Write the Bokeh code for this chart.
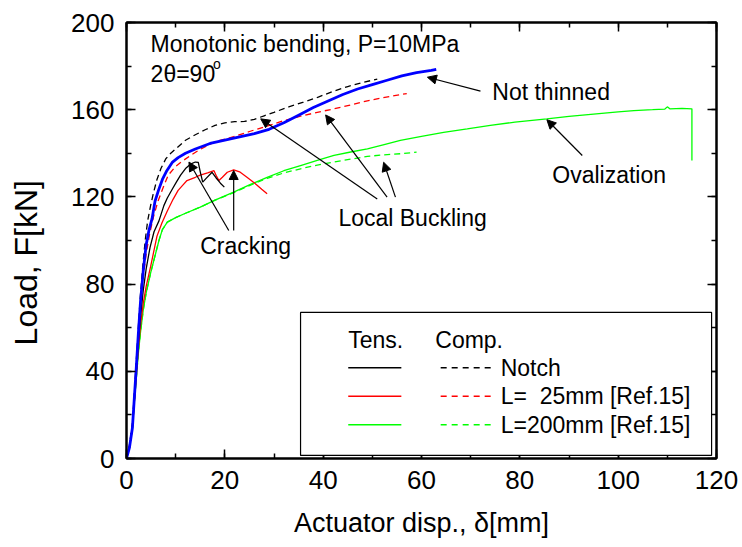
from bokeh.plotting import figure
from bokeh.models import (Range1d, LinearAxis, SingleIntervalTicker, Label,
                          Arrow, NormalHead, BoxAnnotation)
from bokeh.embed import file_html
from bokeh.resources import INLINE

FONT = "Liberation Sans"

# ---- load-displacement curves (actuator disp. [mm], load [kN]) ----
# Tension side, notch
notch_tens_x = [0, 0.6, 1.2, 1.6, 2.0, 2.4, 2.85, 3.4, 4.0, 4.8, 5.6, 6.6, 7.6, 8.3, 9.3,
                10.2, 11, 12, 13, 14, 14.6, 15.0, 15.5, 16.2, 17.4, 18.2, 19.1, 19.9]
notch_tens_y = [0, 5, 14, 27, 40, 53, 65, 77, 87, 97, 104, 109, 116, 119.5, 123.5,
                127, 130, 133, 135, 136, 135.8, 131.5, 126.8, 128.5, 131.3, 128.8, 126.3, 124.5]

# Compression side, notch
notch_comp_x = [0, 0.6, 1.2, 1.6, 2.0, 2.4, 2.8, 3.3, 3.8, 4.3, 4.9, 5.5, 6.2, 7, 8, 9, 10,
                12, 14, 16, 18, 20, 22, 24, 26, 28, 30, 33, 36, 39, 42, 45, 48, 51]
notch_comp_y = [0, 6, 16, 30, 45, 60, 74, 88, 100, 109, 116, 122, 128, 133, 137.5, 140, 142,
                146, 148.5, 150.8, 152.8, 154, 154.5, 154.6, 155.6, 157.2, 158.8, 161.3,
                163.5, 165.8, 168.4, 170.6, 172.5, 174]

# Tension side, L = 25 mm
l25_tens_x = [0, 0.6, 1.2, 1.6, 2.0, 2.4, 2.85, 3.4, 4.0, 4.9, 6.2, 7.2, 8.3, 9.5, 10.5,
              11.5, 12.3, 14, 15, 16.5, 17.8, 18.3, 18.8, 19.5, 20.5, 21.8, 23, 24.5, 25.5,
              26.5, 27.5, 28.6]
l25_tens_y = [0, 5, 14, 26, 38, 50, 61, 71, 79, 88, 102, 108, 113.5, 119, 123,
              125.5, 127.5, 129, 130, 131, 132, 129.5, 127.5, 129, 131.3, 132.4, 131.5, 129,
              127.3, 125.5, 123.5, 121.4]

# Compression side, L = 25 mm
l25_comp_x = [0, 0.6, 1.2, 1.6, 2.0, 2.4, 2.85, 3.4, 4.0, 4.7, 5.5, 6.4, 7.4, 8.5, 10, 11,
              13, 15, 18, 21.8, 25, 28.6, 32, 35.4, 38.8, 42.2, 45.6, 48.5, 51.5, 54.5, 57]
l25_comp_y = [0, 6, 15, 29, 43, 57, 70, 83, 94, 103, 111, 118, 124, 130, 134, 135.8,
              139, 141.8, 145.3, 147.6, 150, 152.5, 155, 157, 158.8, 160.4, 162.2, 163.8,
              165.2, 166.5, 167.4]

# Tension side, L = 200 mm
l200_tens_x = [0, 0.6, 1.2, 1.6, 2.0, 2.4, 2.85, 3.4, 4.0, 4.9, 5.8, 6.6, 7.3, 8.3, 10, 12,
               15, 18, 21.8, 25, 28.6, 32, 35.4, 38.8, 42.2, 45.6, 49, 52.4, 55.7, 60, 64.5,
               69.3, 74, 79, 85.5, 90, 95, 100, 103.2, 107, 109.5, 110, 110.5, 113, 115, 115]
l200_tens_y = [0, 5, 14, 26, 37, 48, 58, 68, 76, 85, 93, 100, 105, 108.4, 110.5, 112.5,
               115.3, 118.5, 122.2, 125.5, 129, 132, 134.4, 136.8, 139, 140.6, 142, 144,
               145.9, 147.8, 149.6, 151.2, 152.8, 154.3, 155.8, 156.9, 158, 159, 159.6, 160,
               160.3, 161.3, 160.4, 160.6, 160.4, 136.7]

# Compression side, L = 200 mm
l200_comp_x = [0, 0.6, 1.2, 1.6, 2.0, 2.4, 2.85, 3.4, 4.0, 4.9, 5.8, 6.6, 7.3, 8.3, 10, 12,
               15, 18, 21.8, 25, 28.6, 32, 35.4, 38.8, 42.2, 45.6, 49, 52.4, 55.7, 59]
l200_comp_y = [0, 5, 14, 26, 37, 48, 58, 68, 76, 85, 93, 100, 105, 108.4, 110.5, 112.5,
               115.3, 118.5, 122, 125.2, 128.5, 131, 132.9, 134.6, 136, 137.3, 138.6, 139.3,
               139.8, 140.5]

# Not thinned pipe
plain_x = [0, 0.6, 1.2, 1.6, 2.0, 2.4, 2.85, 3.4, 4.0, 4.6, 5.2, 5.8, 6.5, 7.3, 8.2, 9.3,
           10.5, 12, 14, 17, 20, 23, 26, 29, 32, 35, 38, 41, 44, 47, 50, 53, 56, 59, 62, 63]
plain_y = [0, 5, 14, 28, 42, 57, 72, 86, 98, 105, 110, 118, 123, 128, 132, 135.8,
           138, 140, 142, 144.5, 146, 147.5, 149, 151, 154, 157.5, 161, 164, 167, 169.5,
           171.5, 173.5, 175.5, 177, 178, 178.5]

# the double gap in the L=25mm row keeps "[Ref.15]" aligned with the row below
legend_rows = ["Notch", "L=\u00a0 25mm [Ref.15]", "L=200mm [Ref.15]"]
legend_colors = ["black", "#ff0000", "#00ff00"]

p = figure(width=742, height=547, x_range=Range1d(0, 120), y_range=Range1d(0, 200),
           output_backend="svg", toolbar_location=None,
           min_border_left=126, min_border_right=26, min_border_top=22,
           min_border_bottom=89)
p.background_fill_color = "white"
p.border_fill_color = "white"
p.outline_line_color = "black"
p.outline_line_width = 2
p.xgrid.visible = False
p.ygrid.visible = False


def style_axis(ax, interval, labels=True):
    ax.ticker = SingleIntervalTicker(interval=interval, num_minor_ticks=2)
    ax.axis_line_width = 2
    ax.axis_line_color = "black"
    ax.major_tick_in = 9
    ax.major_tick_out = 0
    ax.minor_tick_in = 5
    ax.minor_tick_out = 0
    ax.major_tick_line_width = 1.5
    ax.minor_tick_line_width = 1.5
    ax.major_tick_line_color = "black"
    ax.minor_tick_line_color = "black"
    if labels:
        ax.major_label_text_font = FONT
        ax.major_label_text_font_size = "26px"
        ax.major_label_text_color = "black"
        ax.major_label_standoff = 12
    else:
        ax.major_label_text_font_size = "0px"
        ax.major_label_text_color = None
        ax.major_label_standoff = 0


xax = p.xaxis[0]
yax = p.yaxis[0]
style_axis(xax, 20)
style_axis(yax, 40)
xax.axis_label = "Actuator disp., δ[mm]"
xax.axis_label_text_font_size = "27px"
xax.axis_label_standoff = 16
# trailing no-break spaces push the visible title a little below the frame centre
yax.axis_label = "Load, F[kN]" + "\u00a0" * 5
yax.axis_label_text_font_size = "32px"
yax.axis_label_standoff = 24
for ax in (xax, yax):
    ax.axis_label_text_font = FONT
    ax.axis_label_text_font_style = "normal"
    ax.axis_label_text_color = "black"

top_ax = LinearAxis()
right_ax = LinearAxis()
style_axis(top_ax, 20, labels=False)
style_axis(right_ax, 40, labels=False)
p.add_layout(top_ax, "above")
p.add_layout(right_ax, "right")

# ---- curves ----
thin = 1.3
p.line(l200_comp_x, l200_comp_y, color="#00ff00", line_width=thin, line_dash="6 4")
p.line(l200_tens_x, l200_tens_y, color="#00ff00", line_width=thin)
p.line(l25_comp_x, l25_comp_y, color="#ff0000", line_width=thin, line_dash="6 4")
p.line(l25_tens_x, l25_tens_y, color="#ff0000", line_width=thin)
p.line(notch_comp_x, notch_comp_y, color="black", line_width=thin, line_dash="6 4")
p.line(notch_tens_x, notch_tens_y, color="black", line_width=thin)
p.line(plain_x, plain_y, color="#0000ff", line_width=2.8)


# ---- annotations ----
def note(x, y, text, size="23px"):
    p.add_layout(Label(x=x, y=y, text=text, text_font=FONT, text_font_size=size,
                       text_color="black", text_baseline="alphabetic", text_align="left"))


def pointer(x0, y0, x1, y1):
    p.add_layout(Arrow(x_start=x0, y_start=y0, x_end=x1, y_end=y1,
                       line_color="black", line_width=1.2,
                       end=NormalHead(size=9, fill_color="black", line_color="black",
                                      line_width=1)))


note(4.9, 190.3, "Monotonic bending, P=10MPa")
note(4.9, 176.2, "2θ=90")
note(17.6, 180.8, "o", size="14px")
note(74.4, 168.3, "Not thinned")
note(86.6, 130.1, "Ovalization")
note(43.1, 110.2, "Local Buckling")
note(15.0, 97.5, "Cracking")

pointer(72.0, 168.5, 61.2, 174.9)
pointer(92.7, 139.0, 85.5, 155.4)
pointer(51.0, 119.0, 27.3, 155.8)
pointer(53.0, 119.9, 40.5, 157.6)
pointer(54.7, 119.9, 52.3, 135.9)
pointer(20.8, 104.6, 12.7, 136.0)
pointer(21.8, 104.6, 21.8, 132.1)

# ---- legend ----
p.add_layout(BoxAnnotation(left=35.4, right=119.0, bottom=1.4, top=67.0,
                           fill_color="white", fill_alpha=1.0,
                           line_color="black", line_width=1.2, line_alpha=1.0))
note(45.1, 54.5, "Tens.")
note(62.8, 54.5, "Comp.")
row_y = [41.6, 28.6, 15.5]
for name, col, yy in zip(legend_rows, legend_colors, row_y):
    p.line([45.1, 55.9], [yy, yy], color=col, line_width=1.5, level="overlay")
    p.line([63.9, 74.2], [yy, yy], color=col, line_width=1.5, line_dash="6 5",
           level="overlay")
    p.add_layout(Label(x=76.1, y=yy, text=name, text_font=FONT, text_font_size="23px",
                       text_color="black", text_baseline="middle", text_align="left"))

open("out.html", "w").write(file_html(p, INLINE))
